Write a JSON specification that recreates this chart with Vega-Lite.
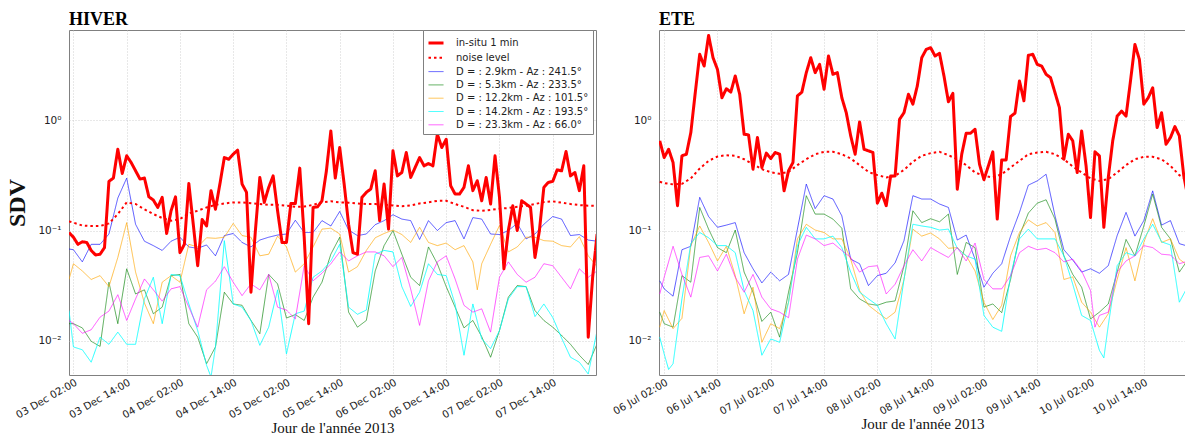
{
  "$schema": "https://vega.github.io/schema/vega-lite/v6.json",
  "autosize": {"type": "pad"},
  "padding": {"left": 5, "top": 10, "right": 0, "bottom": 0},
  "background": "white",
  "spacing": 63,
  "bounds": "flush",
  "config": {
    "font": "DejaVu Sans",
    "view": {"stroke": "#808080", "strokeWidth": 1},
    "axis": {
      "labelFont": "DejaVu Sans", "labelFontSize": 10.5, "labelColor": "#222",
      "ticks": false, "domain": false,
      "gridColor": "#c4c4c4", "gridDash": [1, 2], "gridWidth": 0.8,
      "titleFont": "Liberation Serif", "titleFontWeight": "normal", "titleColor": "#111"
    },
    "title": {"font": "Liberation Serif", "fontSize": 18, "fontWeight": "bold", "anchor": "start", "frame": "group", "offset": 1, "color": "black"}
  },
  "resolve": {"scale": {"x": "independent", "y": "independent", "color": "independent", "strokeDash": "independent", "strokeWidth": "independent"}},
  "datasets": {
    "hiver": [
      {"t":"2013-12-03T01:00","r":0.096,"n":0.121,"b":0.068,"g":0.0143,"o":0.036,"c":0.0188,"m":0.0153},
      {"t":"2013-12-03T02:00","r":0.087,"n":0.118,"b":0.067,"g":0.0143,"o":0.05,"c":0.0088,"m":0.0143},
      {"t":"2013-12-03T03:00","r":0.075},
      {"t":"2013-12-03T04:00","r":0.079,"n":0.111,"b":0.052,"g":0.0131,"o":0.043,"c":0.0083,"m":0.0117},
      {"t":"2013-12-03T05:00","r":0.078},
      {"t":"2013-12-03T06:00","r":0.066,"n":0.11,"b":0.075,"g":0.0099,"o":0.036,"c":0.0064,"m":0.0126},
      {"t":"2013-12-03T07:00","r":0.060},
      {"t":"2013-12-03T08:00","r":0.061,"n":0.11,"b":0.075,"g":0.0089,"o":0.039,"c":0.0108,"m":0.0164},
      {"t":"2013-12-03T09:00","r":0.070},
      {"t":"2013-12-03T10:00","r":0.279,"n":0.116,"b":0.093,"g":0.034,"o":0.031,"c":0.0093,"m":0.0186},
      {"t":"2013-12-03T11:00","r":0.299},
      {"t":"2013-12-03T12:00","r":0.546,"n":0.141,"b":0.197,"g":0.0143,"o":0.057,"c":0.012,"m":0.0262},
      {"t":"2013-12-03T13:00","r":0.329},
      {"t":"2013-12-03T14:00","r":0.476,"n":0.18,"b":0.299,"g":0.045,"o":0.118,"c":0.0093,"m":0.0153},
      {"t":"2013-12-03T15:00","r":0.414},
      {"t":"2013-12-03T16:00","r":0.348,"n":0.174,"b":0.114,"g":0.0266,"o":0.042,"c":0.0093,"m":0.024},
      {"t":"2013-12-03T17:00","r":0.293},
      {"t":"2013-12-03T18:00","r":0.299,"n":0.156,"b":0.08,"g":0.029,"o":0.022,"c":0.024,"m":0.0364},
      {"t":"2013-12-03T19:00","r":0.202},
      {"t":"2013-12-03T20:00","r":0.189,"n":0.141,"b":0.073,"g":0.0176,"o":0.0143,"c":0.0377,"m":0.029},
      {"t":"2013-12-03T21:00","r":0.162},
      {"t":"2013-12-03T22:00","r":0.2,"n":0.13,"b":0.066,"g":0.0202,"o":0.034,"c":0.0143,"m":0.0229},
      {"t":"2013-12-03T23:00","r":0.094},
      {"t":"2013-12-04T00:00","r":0.151,"n":0.123,"b":0.08,"g":0.039,"o":0.039,"c":0.04,"m":0.0296},
      {"t":"2013-12-04T01:00","r":0.202},
      {"t":"2013-12-04T02:00","r":0.063,"n":0.127,"b":0.087,"g":0.04,"o":0.034,"c":0.039,"m":0.031},
      {"t":"2013-12-04T03:00","r":0.075},
      {"t":"2013-12-04T04:00","r":0.267,"n":0.143,"b":0.071,"g":0.0143,"o":0.075,"c":0.0216,"m":0.0202},
      {"t":"2013-12-04T05:00","r":0.114},
      {"t":"2013-12-04T06:00","r":0.048,"n":0.151,"b":0.069,"g":0.0108,"o":0.071,"c":0.0124,"m":0.0133},
      {"t":"2013-12-04T07:00","r":0.126},
      {"t":"2013-12-04T08:00","r":0.11,"n":0.162,"b":0.074,"g":0.0062,"o":0.086,"c":0.006,"m":0.029},
      {"t":"2013-12-04T09:00","r":0.23,"c":0.0047},
      {"t":"2013-12-04T10:00","r":0.156,"n":0.171,"b":0.059,"g":0.0088,"o":0.085,"c":0.0088,"m":0.0347},
      {"t":"2013-12-04T11:00","r":0.264},
      {"t":"2013-12-04T12:00","r":0.459,"n":0.176,"b":0.09,"g":0.0276,"o":0.087,"c":0.081,"m":0.047},
      {"t":"2013-12-04T13:00","r":0.443},
      {"t":"2013-12-04T14:00","r":0.492,"n":0.18,"b":0.094,"g":0.0216,"o":0.116,"c":0.0216,"m":0.034},
      {"t":"2013-12-04T15:00","r":0.535},
      {"t":"2013-12-04T16:00","r":0.264,"n":0.18,"b":0.078,"g":0.021,"o":0.09,"c":0.0202,"m":0.0257},
      {"t":"2013-12-04T17:00","r":0.222},
      {"t":"2013-12-04T18:00","r":0.0276,"n":0.177,"b":0.071,"g":0.0153,"o":0.087,"c":0.0153,"m":0.0328},
      {"t":"2013-12-04T19:00","r":0.1},
      {"t":"2013-12-04T20:00","r":0.303,"n":0.174,"b":0.082,"g":0.0116,"o":0.059,"c":0.0091,"m":0.029},
      {"t":"2013-12-04T21:00","r":0.18},
      {"t":"2013-12-04T22:00","r":0.246,"n":0.171,"b":0.087,"g":0.04,"o":0.061,"c":0.0133,"m":0.04},
      {"t":"2013-12-04T23:00","r":0.313},
      {"t":"2013-12-05T00:00","r":0.151,"n":0.171,"b":0.091,"g":0.0328,"o":0.089,"c":0.029,"m":0.0202},
      {"t":"2013-12-05T01:00","r":0.078},
      {"t":"2013-12-05T02:00","r":0.078,"n":0.168,"b":0.093,"g":0.0161,"o":0.071,"c":0.0076,"m":0.019},
      {"t":"2013-12-05T03:00","r":0.176},
      {"t":"2013-12-05T04:00","r":0.176,"n":0.164,"b":0.124,"g":0.0173,"o":0.042,"c":0.0176,"m":0.0158},
      {"t":"2013-12-05T05:00","r":0.368},
      {"t":"2013-12-05T06:00","r":0.087,"n":0.165,"b":0.096,"g":0.0153,"o":0.05,"c":0.0186,"m":0.048},
      {"t":"2013-12-05T07:00","r":0.0143},
      {"t":"2013-12-05T08:00","r":0.162,"n":0.171,"b":0.096,"g":0.0249,"o":0.071,"c":0.0377,"m":0.035},
      {"t":"2013-12-05T09:00","r":0.164},
      {"t":"2013-12-05T10:00","r":0.186,"n":0.18,"b":0.123,"g":0.034,"o":0.103,"c":0.043,"m":0.041},
      {"t":"2013-12-05T11:00","r":0.348},
      {"t":"2013-12-05T12:00","r":0.80,"n":0.184,"b":0.11,"g":0.061,"o":0.105,"c":0.053,"m":0.05},
      {"t":"2013-12-05T13:00","r":0.299},
      {"t":"2013-12-05T14:00","r":0.566,"n":0.18,"b":0.149,"g":0.087,"o":0.093,"c":0.075,"m":0.064},
      {"t":"2013-12-05T15:00","r":0.264},
      {"t":"2013-12-05T16:00","r":0.114,"n":0.179,"b":0.101,"g":0.0182,"o":0.042,"c":0.0202,"m":0.053},
      {"t":"2013-12-05T17:00","r":0.063},
      {"t":"2013-12-05T18:00","r":0.061,"n":0.176,"b":0.09,"g":0.0133,"o":0.047,"c":0.0174,"m":0.059},
      {"t":"2013-12-05T19:00","r":0.2},
      {"t":"2013-12-05T20:00","r":0.222,"n":0.174,"b":0.093,"g":0.0153,"o":0.066,"c":0.019,"m":0.064},
      {"t":"2013-12-05T21:00","r":0.238},
      {"t":"2013-12-05T22:00","r":0.348,"n":0.174,"b":0.113,"g":0.043,"o":0.086,"c":0.061,"m":0.064},
      {"t":"2013-12-05T23:00","r":0.123},
      {"t":"2013-12-06T00:00","r":0.264,"n":0.171,"b":0.123,"g":0.073,"o":0.094,"c":0.066,"m":0.059},
      {"t":"2013-12-06T01:00","r":0.103},
      {"t":"2013-12-06T02:00","r":0.528,"n":0.169,"b":0.139,"g":0.1,"o":0.101,"c":0.064,"m":0.047},
      {"t":"2013-12-06T03:00","r":0.313},
      {"t":"2013-12-06T04:00","r":0.336,"n":0.166,"b":0.127,"g":0.061,"o":0.092,"c":0.031,"m":0.057},
      {"t":"2013-12-06T05:00","r":0.51},
      {"t":"2013-12-06T06:00","r":0.303,"n":0.169,"b":0.123,"g":0.0377,"o":0.078,"c":0.0205,"m":0.0294},
      {"t":"2013-12-06T07:00","r":0.373},
      {"t":"2013-12-06T08:00","r":0.459,"n":0.176,"b":0.083,"g":0.0317,"o":0.107,"c":0.0276,"m":0.0138},
      {"t":"2013-12-06T09:00","r":0.386},
      {"t":"2013-12-06T10:00","r":0.405,"n":0.18,"b":0.123,"g":0.071,"o":0.078,"c":0.05,"m":0.035},
      {"t":"2013-12-06T11:00","r":0.386},
      {"t":"2013-12-06T12:00","r":0.747,"n":0.186,"b":0.1,"g":0.05,"o":0.073,"c":0.04,"m":0.052},
      {"t":"2013-12-06T13:00","r":0.566},
      {"t":"2013-12-06T14:00","r":0.673,"n":0.186,"b":0.118,"g":0.031,"o":0.077,"c":0.039,"m":0.059},
      {"t":"2013-12-06T15:00","r":0.255},
      {"t":"2013-12-06T16:00","r":0.214,"n":0.174,"b":0.123,"g":0.0202,"o":0.067,"c":0.0216,"m":0.0364},
      {"t":"2013-12-06T17:00","r":0.214},
      {"t":"2013-12-06T18:00","r":0.246,"n":0.164,"b":0.084,"g":0.0131,"o":0.073,"c":0.0074,"m":0.021},
      {"t":"2013-12-06T19:00","r":0.386},
      {"t":"2013-12-06T20:00","r":0.23,"n":0.153,"b":0.131,"g":0.0153,"o":0.052,"c":0.0216,"m":0.0182},
      {"t":"2013-12-06T21:00","r":0.283,"o":0.029},
      {"t":"2013-12-06T22:00","r":0.186,"n":0.151,"b":0.127,"g":0.0109,"o":0.05,"c":0.0104,"m":0.0195},
      {"t":"2013-12-06T23:00","r":0.303},
      {"t":"2013-12-07T00:00","r":0.174,"n":0.154,"b":0.093,"g":0.0071,"o":0.075,"c":0.0085,"m":0.012},
      {"t":"2013-12-07T01:00","r":0.476},
      {"t":"2013-12-07T02:00","r":0.2,"n":0.158,"b":0.092,"g":0.0124,"o":0.111,"c":0.0124,"m":0.0377},
      {"t":"2013-12-07T03:00","r":0.045},
      {"t":"2013-12-07T04:00","r":0.1,"n":0.16,"b":0.1,"g":0.0249,"o":0.064,"c":0.024,"m":0.052},
      {"t":"2013-12-07T05:00","r":0.168},
      {"t":"2013-12-07T06:00","r":0.1,"n":0.164,"b":0.116,"g":0.0317,"o":0.071,"c":0.031,"m":0.04},
      {"t":"2013-12-07T07:00","r":0.186},
      {"t":"2013-12-07T08:00","r":0.174,"n":0.168,"b":0.084,"g":0.031,"o":0.087,"c":0.031,"m":0.034},
      {"t":"2013-12-07T09:00","r":0.162},
      {"t":"2013-12-07T10:00","r":0.057,"n":0.174,"b":0.093,"g":0.0188,"o":0.087,"c":0.0166,"m":0.0377},
      {"t":"2013-12-07T11:00","r":0.1},
      {"t":"2013-12-07T12:00","r":0.246,"n":0.181,"b":0.114,"g":0.0153,"o":0.081,"c":0.0216,"m":0.05},
      {"t":"2013-12-07T13:00","r":0.273},
      {"t":"2013-12-07T14:00","r":0.279,"n":0.184,"b":0.134,"g":0.0133,"o":0.08,"c":0.0163,"m":0.048},
      {"t":"2013-12-07T15:00","r":0.355},
      {"t":"2013-12-07T16:00","r":0.348,"n":0.179,"b":0.127,"g":0.0112,"o":0.073,"c":0.0106,"m":0.0377},
      {"t":"2013-12-07T17:00","r":0.52},
      {"t":"2013-12-07T18:00","r":0.313,"n":0.174,"b":0.09,"g":0.0093,"o":0.071,"c":0.0071,"m":0.0296},
      {"t":"2013-12-07T19:00","r":0.336},
      {"t":"2013-12-07T20:00","r":0.23,"n":0.17,"b":0.092,"g":0.0074,"o":0.088,"c":0.0064,"m":0.045},
      {"t":"2013-12-07T21:00","r":0.386},
      {"t":"2013-12-07T22:00","r":0.0108,"n":0.168,"b":0.082,"g":0.0061,"o":0.059,"c":0.005,"m":0.0377},
      {"t":"2013-12-07T23:00","r":0.038},
      {"t":"2013-12-08T00:00","r":0.093,"n":0.167,"b":0.08,"g":0.0094,"o":0.047,"c":0.0124,"m":0.043}
    ],
    "ete": [
      {"t":"2013-07-06T01:00","r":0.65,"n":0.277,"b":0.035,"g":0.0182,"o":0.0133,"c":0.0108,"m":0.0266},
      {"t":"2013-07-06T02:00","r":0.459,"n":0.269,"b":0.0296,"g":0.0143,"o":0.0188,"c":0.0076,"m":0.0377},
      {"t":"2013-07-06T03:00","r":0.546,"c":0.0055},
      {"t":"2013-07-06T04:00","r":0.414,"n":0.262,"b":0.0254,"g":0.0133,"o":0.0129,"c":0.0062,"m":0.072},
      {"t":"2013-07-06T05:00","r":0.168},
      {"t":"2013-07-06T06:00","r":0.476,"n":0.265,"b":0.067,"g":0.039,"o":0.016,"c":0.024,"m":0.04},
      {"t":"2013-07-06T07:00","r":0.492},
      {"t":"2013-07-06T08:00","r":0.773,"n":0.297,"b":0.072,"g":0.034,"o":0.073,"c":0.076,"m":0.0249},
      {"t":"2013-07-06T09:00","r":1.78},
      {"t":"2013-07-06T10:00","r":3.96,"n":0.365,"b":0.2,"g":0.162,"o":0.11,"c":0.096,"m":0.057},
      {"t":"2013-07-06T11:00","r":3.1},
      {"t":"2013-07-06T12:00","r":5.88,"n":0.428,"b":0.134,"g":0.103,"o":0.078,"c":0.086,"m":0.059},
      {"t":"2013-07-06T13:00","r":3.69},
      {"t":"2013-07-06T14:00","r":2.89,"n":0.469,"b":0.107,"g":0.07,"o":0.053,"c":0.073,"m":0.043},
      {"t":"2013-07-06T15:00","r":1.6},
      {"t":"2013-07-06T16:00","r":1.93,"n":0.482,"b":0.112,"g":0.063,"o":0.072,"c":0.073,"m":0.061},
      {"t":"2013-07-06T17:00","r":1.8},
      {"t":"2013-07-06T18:00","r":2.52,"n":0.476,"b":0.118,"g":0.101,"o":0.039,"c":0.063,"m":0.0377},
      {"t":"2013-07-06T19:00","r":1.72},
      {"t":"2013-07-06T20:00","r":0.747,"n":0.443,"b":0.063,"g":0.042,"o":0.0176,"c":0.0286,"m":0.0276},
      {"t":"2013-07-06T21:00","r":0.737},
      {"t":"2013-07-06T22:00","r":0.36,"n":0.4,"b":0.045,"g":0.0276,"o":0.0306,"c":0.0188,"m":0.04},
      {"t":"2013-07-06T23:00","r":0.697},
      {"t":"2013-07-07T00:00","r":0.373,"n":0.36,"b":0.0335,"g":0.015,"o":0.0097,"c":0.0074,"m":0.0249},
      {"t":"2013-07-07T01:00","r":0.503},
      {"t":"2013-07-07T02:00","r":0.45,"n":0.338,"b":0.042,"g":0.0182,"o":0.0143,"c":0.0104,"m":0.0195},
      {"t":"2013-07-07T03:00","r":0.51},
      {"t":"2013-07-07T04:00","r":0.492,"n":0.327,"b":0.035,"g":0.0108,"o":0.0129,"c":0.0097,"m":0.0182},
      {"t":"2013-07-07T05:00","r":0.229},
      {"t":"2013-07-07T06:00","r":0.348,"n":0.34,"b":0.04,"g":0.0276,"o":0.0224,"c":0.0224,"m":0.0162},
      {"t":"2013-07-07T07:00","r":0.414},
      {"t":"2013-07-07T08:00","r":1.66,"n":0.392,"b":0.103,"g":0.063,"o":0.084,"c":0.073,"m":0.055},
      {"t":"2013-07-07T09:00","r":1.8},
      {"t":"2013-07-07T10:00","r":2.7,"n":0.443,"b":0.264,"g":0.207,"o":0.114,"c":0.107,"m":0.091},
      {"t":"2013-07-07T11:00","r":3.69},
      {"t":"2013-07-07T12:00","r":2.7,"n":0.492,"b":0.158,"g":0.141,"o":0.101,"c":0.084,"m":0.084},
      {"t":"2013-07-07T13:00","r":3.21},
      {"t":"2013-07-07T14:00","r":1.91,"n":0.517,"b":0.207,"g":0.141,"o":0.096,"c":0.084,"m":0.073},
      {"t":"2013-07-07T15:00","r":3.82},
      {"t":"2013-07-07T16:00","r":2.61,"n":0.517,"b":0.193,"g":0.127,"o":0.084,"c":0.089,"m":0.077},
      {"t":"2013-07-07T17:00","r":2.7},
      {"t":"2013-07-07T18:00","r":1.6,"n":0.492,"b":0.136,"g":0.105,"o":0.084,"c":0.07,"m":0.066},
      {"t":"2013-07-07T19:00","r":1.17},
      {"t":"2013-07-07T20:00","r":0.721,"n":0.45,"b":0.055,"g":0.0296,"o":0.055,"c":0.042,"m":0.057},
      {"t":"2013-07-07T21:00","r":0.492},
      {"t":"2013-07-07T22:00","r":0.966,"n":0.392,"b":0.05,"g":0.024,"o":0.0286,"c":0.0276,"m":0.042},
      {"t":"2013-07-07T23:00","r":0.546},
      {"t":"2013-07-08T00:00","r":0.528,"n":0.34,"b":0.0317,"g":0.0216,"o":0.021,"c":0.024,"m":0.047},
      {"t":"2013-07-08T01:00","r":0.51},
      {"t":"2013-07-08T02:00","r":0.177,"n":0.318,"b":0.039,"g":0.021,"o":0.0182,"c":0.021,"m":0.048},
      {"t":"2013-07-08T03:00","r":0.218},
      {"t":"2013-07-08T04:00","r":0.168,"n":0.303,"b":0.041,"g":0.0224,"o":0.0158,"c":0.0143,"m":0.0266},
      {"t":"2013-07-08T05:00","r":0.313},
      {"t":"2013-07-08T06:00","r":0.313,"n":0.313,"b":0.051,"g":0.023,"o":0.0182,"c":0.0104,"m":0.0326},
      {"t":"2013-07-08T07:00","r":1.02},
      {"t":"2013-07-08T08:00","r":1.17,"n":0.355,"b":0.081,"g":0.048,"o":0.036,"c":0.036,"m":0.048},
      {"t":"2013-07-08T09:00","r":1.72},
      {"t":"2013-07-08T10:00","r":1.4,"n":0.42,"b":0.207,"g":0.151,"o":0.103,"c":0.114,"m":0.067},
      {"t":"2013-07-08T11:00","r":2.05},
      {"t":"2013-07-08T12:00","r":3.69,"n":0.476,"b":0.193,"g":0.118,"o":0.089,"c":0.11,"m":0.053},
      {"t":"2013-07-08T13:00","r":4.39},
      {"t":"2013-07-08T14:00","r":4.55,"n":0.503,"b":0.193,"g":0.128,"o":0.095,"c":0.107,"m":0.07},
      {"t":"2013-07-08T15:00","r":3.82},
      {"t":"2013-07-08T16:00","r":4.04,"n":0.517,"b":0.174,"g":0.12,"o":0.084,"c":0.101,"m":0.063},
      {"t":"2013-07-08T17:00","r":2.52},
      {"t":"2013-07-08T18:00","r":1.47,"n":0.482,"b":0.162,"g":0.141,"o":0.069,"c":0.103,"m":0.057},
      {"t":"2013-07-08T19:00","r":1.75},
      {"t":"2013-07-08T20:00","r":0.237,"n":0.443,"b":0.082,"g":0.04,"o":0.07,"c":0.069,"m":0.07},
      {"t":"2013-07-08T21:00","r":0.492},
      {"t":"2013-07-08T22:00","r":0.763,"n":0.392,"b":0.091,"g":0.078,"o":0.059,"c":0.059,"m":0.053},
      {"t":"2013-07-08T23:00","r":0.763},
      {"t":"2013-07-09T00:00","r":0.829,"n":0.336,"b":0.055,"g":0.07,"o":0.043,"c":0.055,"m":0.077},
      {"t":"2013-07-09T01:00","r":0.4},
      {"t":"2013-07-09T02:00","r":0.289,"n":0.313,"b":0.0306,"g":0.0202,"o":0.0224,"c":0.017,"m":0.036},
      {"t":"2013-07-09T03:00","r":0.386},
      {"t":"2013-07-09T04:00","r":0.517,"n":0.303,"b":0.041,"g":0.0216,"o":0.0156,"c":0.0133,"m":0.0296},
      {"t":"2013-07-09T05:00","r":0.127},
      {"t":"2013-07-09T06:00","r":0.437,"n":0.324,"b":0.05,"g":0.018,"o":0.021,"c":0.0122,"m":0.0296},
      {"t":"2013-07-09T07:00","r":0.437},
      {"t":"2013-07-09T08:00","r":1.08,"n":0.373,"b":0.089,"g":0.036,"o":0.059,"c":0.039,"m":0.039},
      {"t":"2013-07-09T09:00","r":1.16},
      {"t":"2013-07-09T10:00","r":2.27,"n":0.428,"b":0.146,"g":0.09,"o":0.096,"c":0.084,"m":0.063},
      {"t":"2013-07-09T11:00","r":1.5},
      {"t":"2013-07-09T12:00","r":3.88,"n":0.492,"b":0.258,"g":0.144,"o":0.125,"c":0.103,"m":0.072},
      {"t":"2013-07-09T13:00","r":3.96},
      {"t":"2013-07-09T14:00","r":3.21,"n":0.51,"b":0.282,"g":0.177,"o":0.11,"c":0.084,"m":0.067},
      {"t":"2013-07-09T15:00","r":3.1},
      {"t":"2013-07-09T16:00","r":2.61,"n":0.517,"b":0.324,"g":0.19,"o":0.118,"c":0.084,"m":0.069},
      {"t":"2013-07-09T17:00","r":2.43},
      {"t":"2013-07-09T18:00","r":1.78,"n":0.492,"b":0.136,"g":0.127,"o":0.096,"c":0.084,"m":0.063},
      {"t":"2013-07-09T19:00","r":1.3},
      {"t":"2013-07-09T20:00","r":0.443,"n":0.443,"b":0.067,"g":0.059,"o":0.036,"c":0.059,"m":0.052},
      {"t":"2013-07-09T21:00","r":0.747},
      {"t":"2013-07-09T22:00","r":0.65,"n":0.381,"b":0.054,"g":0.04,"o":0.038,"c":0.0326,"m":0.055},
      {"t":"2013-07-09T23:00","r":0.336},
      {"t":"2013-07-10T00:00","r":0.80,"n":0.336,"b":0.042,"g":0.0306,"o":0.0224,"c":0.017,"m":0.043},
      {"t":"2013-07-10T01:00","r":0.386},
      {"t":"2013-07-10T02:00","r":0.131,"n":0.297,"b":0.045,"g":0.0158,"o":0.0182,"c":0.0153,"m":0.0286},
      {"t":"2013-07-10T03:00","r":0.517,"m":0.0133},
      {"t":"2013-07-10T04:00","r":0.476,"n":0.282,"b":0.041,"g":0.0182,"o":0.0133,"c":0.0082,"m":0.017},
      {"t":"2013-07-10T05:00","r":0.107,"c":0.007},
      {"t":"2013-07-10T06:00","r":0.303,"n":0.292,"b":0.048,"g":0.0216,"o":0.0176,"c":0.0138,"m":0.0182},
      {"t":"2013-07-10T07:00","r":0.65},
      {"t":"2013-07-10T08:00","r":1.09,"n":0.336,"b":0.09,"g":0.042,"o":0.036,"c":0.048,"m":0.042},
      {"t":"2013-07-10T09:00","r":1.21},
      {"t":"2013-07-10T10:00","r":1.09,"n":0.392,"b":0.146,"g":0.083,"o":0.07,"c":0.063,"m":0.053},
      {"t":"2013-07-10T11:00","r":2.27},
      {"t":"2013-07-10T12:00","r":4.87,"n":0.443,"b":0.089,"g":0.059,"o":0.035,"c":0.059,"m":0.059},
      {"t":"2013-07-10T13:00","r":3.56},
      {"t":"2013-07-10T14:00","r":1.4,"n":0.466,"b":0.123,"g":0.11,"o":0.078,"c":0.084,"m":0.073},
      {"t":"2013-07-10T15:00","r":1.6},
      {"t":"2013-07-10T16:00","r":1.97,"n":0.466,"b":0.229,"g":0.214,"o":0.128,"c":0.114,"m":0.07},
      {"t":"2013-07-10T17:00","r":0.858},
      {"t":"2013-07-10T18:00","r":1.17,"n":0.443,"b":0.112,"g":0.107,"o":0.078,"c":0.079,"m":0.061},
      {"t":"2013-07-10T19:00","r":0.606},
      {"t":"2013-07-10T20:00","r":0.697,"n":0.386,"b":0.123,"g":0.084,"o":0.084,"c":0.074,"m":0.06},
      {"t":"2013-07-10T21:00","r":0.876},
      {"t":"2013-07-10T22:00","r":0.721,"n":0.318,"b":0.076,"g":0.042,"o":0.055,"c":0.0224,"m":0.05},
      {"t":"2013-07-10T23:00","r":0.313},
      {"t":"2013-07-11T00:00","r":0.193,"n":0.282,"b":0.072,"g":0.055,"o":0.048,"c":0.0317,"m":0.053}
    ]
  },
  "hconcat": [
    {
      "width": 527,
      "height": 345,
      "title": {"text": "HIVER"},
      "data": {"name": "hiver"},
      "transform": [
        {"fold": ["b", "g", "o", "c", "m", "n", "r"], "as": ["s", "v"]},
        {"filter": "isValid(datum.v)"}
      ],
      "encoding": {
        "x": {
          "field": "t", "type": "temporal",
          "scale": {"domain": [{"year": 2013, "month": 12, "date": 3, "hours": 1}, {"year": 2013, "month": 12, "date": 7, "hours": 23, "minutes": 45}]},
          "axis": {
            "values": [
              {"year": 2013, "month": 12, "date": 3, "hours": 2}, {"year": 2013, "month": 12, "date": 3, "hours": 14},
              {"year": 2013, "month": 12, "date": 4, "hours": 2}, {"year": 2013, "month": 12, "date": 4, "hours": 14},
              {"year": 2013, "month": 12, "date": 5, "hours": 2}, {"year": 2013, "month": 12, "date": 5, "hours": 14},
              {"year": 2013, "month": 12, "date": 6, "hours": 2}, {"year": 2013, "month": 12, "date": 6, "hours": 14},
              {"year": 2013, "month": 12, "date": 7, "hours": 2}, {"year": 2013, "month": 12, "date": 7, "hours": 14}
            ],
            "format": "%d %b %H:%M", "labelAngle": -30, "labelAlign": "right", "labelBaseline": "top",
            "labelOverlap": false, "labelFlush": false, "labelPadding": 2, "labelFontSize": 10.2,
            "title": "Jour de l'année 2013", "titleFontSize": 15, "titlePadding": 0
          }
        },
        "y": {
          "field": "v", "type": "quantitative",
          "scale": {"type": "log", "domain": [0.0049, 6.58], "nice": false},
          "axis": {
            "values": [0.01, 0.1, 1],
            "labelExpr": "datum.value >= 0.5 ? '10⁰' : datum.value >= 0.05 ? '10⁻¹' : '10⁻²'",
            "labelPadding": 8,
            "title": "SDV", "titleFontSize": 24, "titleFontWeight": "bold", "titlePadding": 8
          }
        },
        "color": {
          "field": "s", "type": "nominal",
          "scale": {
            "domain": ["r", "n", "b", "g", "o", "c", "m"],
            "range": ["#ff0000", "#ff0000", "rgba(0,0,255,0.65)", "rgba(0,128,0,0.65)", "rgba(255,165,0,0.7)", "rgba(0,255,255,0.85)", "rgba(255,0,255,0.65)"]
          },
          "legend": {
            "title": null, "orient": "none", "legendX": 354, "legendY": 0,
            "symbolType": "stroke", "symbolSize": 225,
            "labelFont": "DejaVu Sans", "labelFontSize": 10, "labelColor": "#222", "labelOffset": 11,
            "padding": 4, "rowPadding": 0.3,
            "fillColor": "white", "strokeColor": "#808080",
            "labelExpr": "datum.value == 'r' ? 'in-situ 1 min' : datum.value == 'n' ? 'noise level' : datum.value == 'b' ? 'D = : 2.9km - Az : 241.5°' : datum.value == 'g' ? 'D = : 5.3km - Az : 233.5°' : datum.value == 'o' ? 'D = : 12.2km - Az : 101.5°' : datum.value == 'c' ? 'D = : 14.2km - Az : 193.5°' : 'D = : 23.3km - Az : 66.0°'"
          }
        },
        "strokeDash": {
          "field": "s", "type": "nominal",
          "scale": {"domain": ["r", "n", "b", "g", "o", "c", "m"], "range": [[1, 0], [2.5, 3], [1, 0], [1, 0], [1, 0], [1, 0], [1, 0]]}
        },
        "strokeWidth": {
          "field": "s", "type": "nominal",
          "scale": {"type": "ordinal", "domain": ["r", "n", "b", "g", "o", "c", "m"], "range": [3, 2, 1, 1, 1, 1, 1]}
        }
      },
      "layer": [
        {"transform": [{"filter": "datum.s != 'r' && datum.s != 'n'"}], "mark": {"type": "line", "clip": true}, "encoding": {}},
        {"transform": [{"filter": "datum.s == 'n'"}], "mark": {"type": "line", "clip": true}, "encoding": {}},
        {"transform": [{"filter": "datum.s == 'r'"}], "mark": {"type": "line", "clip": true, "strokeJoin": "round"}, "encoding": {}}
      ]
    },
    {
      "width": 527,
      "height": 345,
      "title": {"text": "ETE"},
      "data": {"name": "ete"},
      "transform": [
        {"fold": ["b", "g", "o", "c", "m", "n", "r"], "as": ["s", "v"]},
        {"filter": "isValid(datum.v)"}
      ],
      "encoding": {
        "x": {
          "field": "t", "type": "temporal",
          "scale": {"domain": [{"year": 2013, "month": 7, "date": 6, "hours": 0, "minutes": 50}, {"year": 2013, "month": 7, "date": 10, "hours": 23, "minutes": 30}]},
          "axis": {
            "values": [
              {"year": 2013, "month": 7, "date": 6, "hours": 2}, {"year": 2013, "month": 7, "date": 6, "hours": 14},
              {"year": 2013, "month": 7, "date": 7, "hours": 2}, {"year": 2013, "month": 7, "date": 7, "hours": 14},
              {"year": 2013, "month": 7, "date": 8, "hours": 2}, {"year": 2013, "month": 7, "date": 8, "hours": 14},
              {"year": 2013, "month": 7, "date": 9, "hours": 2}, {"year": 2013, "month": 7, "date": 9, "hours": 14},
              {"year": 2013, "month": 7, "date": 10, "hours": 2}, {"year": 2013, "month": 7, "date": 10, "hours": 14}
            ],
            "format": "%d %b %H:%M", "labelAngle": -30, "labelAlign": "right", "labelBaseline": "top",
            "labelOverlap": false, "labelFlush": false, "labelPadding": 2, "labelFontSize": 10.2,
            "title": "Jour de l'année 2013", "titleFontSize": 15, "titlePadding": 0
          }
        },
        "y": {
          "field": "v", "type": "quantitative",
          "scale": {"type": "log", "domain": [0.0049, 6.58], "nice": false},
          "axis": {
            "values": [0.01, 0.1, 1],
            "labelExpr": "datum.value >= 0.5 ? '10⁰' : datum.value >= 0.05 ? '10⁻¹' : '10⁻²'",
            "labelPadding": 8,
            "title": null
          }
        },
        "color": {
          "field": "s", "type": "nominal",
          "scale": {
            "domain": ["r", "n", "b", "g", "o", "c", "m"],
            "range": ["#ff0000", "#ff0000", "rgba(0,0,255,0.65)", "rgba(0,128,0,0.65)", "rgba(255,165,0,0.7)", "rgba(0,255,255,0.85)", "rgba(255,0,255,0.65)"]
          },
          "legend": null
        },
        "strokeDash": {
          "field": "s", "type": "nominal",
          "scale": {"domain": ["r", "n", "b", "g", "o", "c", "m"], "range": [[1, 0], [2.5, 3], [1, 0], [1, 0], [1, 0], [1, 0], [1, 0]]},
          "legend": null
        },
        "strokeWidth": {
          "field": "s", "type": "nominal",
          "scale": {"type": "ordinal", "domain": ["r", "n", "b", "g", "o", "c", "m"], "range": [3, 2, 1, 1, 1, 1, 1]},
          "legend": null
        }
      },
      "layer": [
        {"transform": [{"filter": "datum.s != 'r' && datum.s != 'n'"}], "mark": {"type": "line", "clip": true}, "encoding": {}},
        {"transform": [{"filter": "datum.s == 'n'"}], "mark": {"type": "line", "clip": true}, "encoding": {}},
        {"transform": [{"filter": "datum.s == 'r'"}], "mark": {"type": "line", "clip": true, "strokeJoin": "round"}, "encoding": {}}
      ]
    }
  ]
}
